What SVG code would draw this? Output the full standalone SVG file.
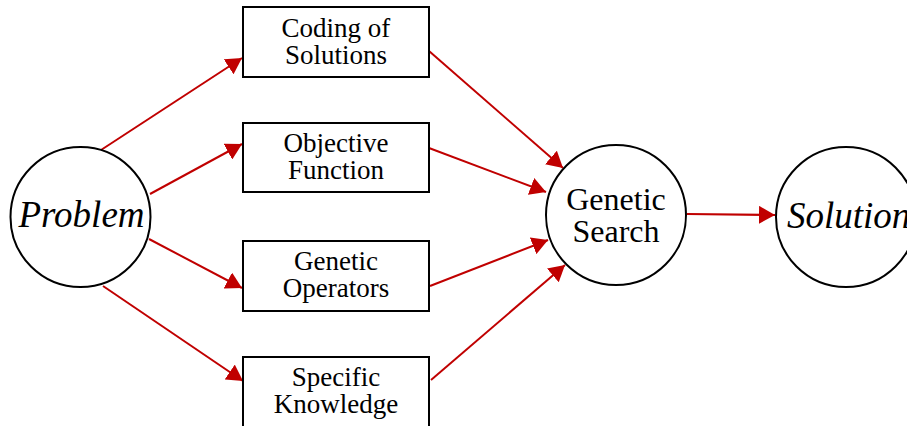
<svg xmlns="http://www.w3.org/2000/svg" width="907" height="426" viewBox="0 0 907 426">
<defs>
<style>
.node{fill:#fff;stroke:#000;stroke-width:2}
.t{font-family:'Liberation Serif','Times New Roman',serif;fill:#000}
.c{text-anchor:middle}
.s{text-anchor:start}
.bx{font-size:27px}
.gs{font-size:32px}
.it{font-size:37px;font-style:italic}
.edge{stroke:#c00000;stroke-width:2;fill:none;marker-end:url(#arr)}
</style>
<marker id="arr" markerUnits="userSpaceOnUse" viewBox="0 0 16 18" refX="16" refY="9" markerWidth="16" markerHeight="18" orient="auto">
<path d="M0,0 L16,9 L0,18 z" fill="#c00000"/>
</marker>
</defs>
<rect width="907" height="426" fill="#fff"/>
<g id="connectors">
<line class="edge" x1="101" y1="150" x2="242" y2="58"/>
<line class="edge" x1="150" y1="194" x2="242" y2="144"/>
<line class="edge" x1="149" y1="239" x2="242" y2="288"/>
<line class="edge" x1="103" y1="286" x2="243" y2="381"/>
<line class="edge" x1="429" y1="51" x2="563" y2="168"/>
<line class="edge" x1="429" y1="148" x2="546" y2="192"/>
<line class="edge" x1="430" y1="286" x2="548" y2="240"/>
<line class="edge" x1="431" y1="380" x2="565" y2="265"/>
<line class="edge" x1="687" y1="214" x2="775" y2="215"/>
</g>
<g id="problem">
<circle class="node" cx="80.5" cy="217" r="70"/>
<text class="t c it" x="81.5" y="227">Problem</text>
</g>
<g id="coding">
<rect class="node" x="243" y="7" width="186" height="70"/>
<text class="t c bx" x="336" y="37">Coding of</text>
<text class="t c bx" x="336" y="64">Solutions</text>
</g>
<g id="objective">
<rect class="node" x="243" y="123" width="186" height="69"/>
<text class="t c bx" x="336" y="152">Objective</text>
<text class="t c bx" x="336" y="179">Function</text>
</g>
<g id="operators">
<rect class="node" x="243" y="241" width="186" height="70"/>
<text class="t c bx" x="336" y="270">Genetic</text>
<text class="t c bx" x="336" y="297">Operators</text>
</g>
<g id="knowledge">
<rect class="node" x="243" y="357" width="186" height="70"/>
<text class="t c bx" x="336" y="386">Specific</text>
<text class="t c bx" x="336" y="413">Knowledge</text>
</g>
<g id="search">
<circle class="node" cx="616" cy="215" r="70"/>
<text class="t c gs" x="616" y="210">Genetic</text>
<text class="t c gs" x="616" y="242">Search</text>
</g>
<g id="solution">
<circle class="node" cx="846" cy="217" r="70"/>
<text class="t s it" x="787" y="228">Solution</text>
</g>
</svg>
